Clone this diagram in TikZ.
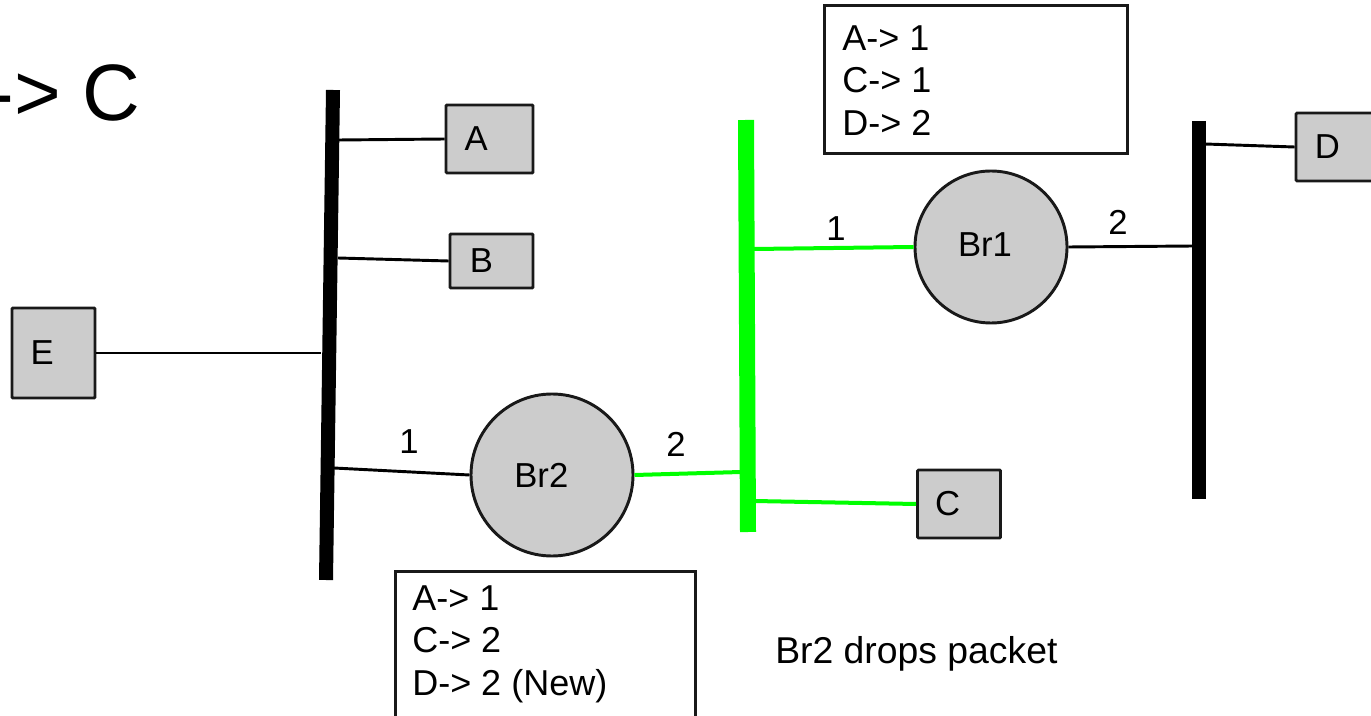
\documentclass[tikz,border=0pt]{standalone}
\usepackage{fontspec}
\setmainfont{Liberation Sans}
\begin{document}
\begin{tikzpicture}[x=0.75pt,y=-0.75pt,
  box/.style={draw=black!90,line width=2.2pt,fill=boxgray,inner sep=0pt,rounded corners=0.8pt},
  boxlabel/.style={font=\fontsize{26}{30}\selectfont},
  router/.style={circle,draw=black!90,line width=2.2pt,fill=boxgray,inner sep=0pt,minimum size=#1},
  bus/.style={line width=#1},
  wire/.style={line width=2.2pt},
  gwire/.style={line width=3pt,draw=busgreen},
  tbl/.style={draw=black!90,line width=2.2pt,fill=white},
  txt/.style={font=\fontsize{26}{32}\selectfont,inner sep=0pt},
  tbltxt/.style={font=\fontsize{27}{32}\selectfont,inner sep=0pt,align=left},
]
\definecolor{boxgray}{HTML}{CCCCCC}
\definecolor{busgreen}{HTML}{00FF00}
\useasboundingbox (0,0) rectangle (1371,716);
\clip (0,0) rectangle (1371,716);

% title fragment
\node[font=\fontsize{60}{70}\selectfont,inner sep=0pt,anchor=base east] (title) at (141,121) {-> C};

% buses
\coordinate (L1) at (333,90);
\coordinate (L2) at (326,580);
\draw[bus=10.5pt] (L1) -- (L2);
\coordinate (G1) at (746,120);
\coordinate (G2) at (748,532);
\draw[bus=12pt,draw=busgreen] (G1) -- (G2);
\coordinate (R1) at (1199,121);
\coordinate (R2) at (1199,499);
\draw[bus=10.5pt] (R1) -- (R2);

% hosts
\node[box,minimum width=65.25pt,minimum height=51pt,label={[boxlabel,xshift=-10pt]center:A}] (A) at (489.5,139) {};
\node[box,minimum width=62.25pt,minimum height=40.5pt,label={[boxlabel,xshift=-7.5pt]center:B}] (B) at (491.5,261) {};
\node[box,minimum width=62.25pt,minimum height=67.5pt,label={[boxlabel,xshift=-8.5pt]center:E}] (E) at (53.5,353) {};
\node[box,minimum width=62.25pt,minimum height=51pt,label={[boxlabel,xshift=-8.5pt]center:C}] (C) at (959,504) {};
\node[box,minimum width=62.25pt,minimum height=51pt,label={[boxlabel,xshift=-7.5pt]center:D}] (D) at (1337.5,147) {};

% bridges
\node[router=121.5pt,label={[boxlabel,xshift=-8pt]center:Br2}] (Br2) at (552,475) {};
\node[router=114pt,label={[boxlabel,xshift=-4.5pt,yshift=1.5pt]center:Br1}] (Br1) at (991,247) {};

% connection points on buses
\coordinate (pA) at (339,140);
\coordinate (pB) at (338,258);
\coordinate (pE) at (321,353);
\coordinate (pBr2) at (334,468);
\coordinate (gBr2) at (741,472);
\coordinate (gBr1) at (754,249);
\coordinate (gC) at (754,501);
\coordinate (rBr1) at (1193,246);
\coordinate (rD) at (1205,144);

% wires
\draw[wire] (pA) -- (A.west);
\draw[wire] (pB) -- (B.west);
\draw[wire] (E.east) -- (pE);
\draw[wire] (pBr2) -- (Br2.west);
\draw[gwire] (Br2.east) -- (gBr2);
\draw[gwire] (gBr1) -- (Br1.west);
\draw[gwire] (gC) -- (C.west);
\draw[wire] (Br1.east) -- (rBr1);
\draw[wire] (rD) -- (D.west);

% port labels
\node[txt] (n1a) at (409,442) {1};
\node[txt] (n2a) at (676,444) {2};
\node[txt] (n1b) at (836,229) {1};
\node[txt] (n2b) at (1118,222) {2};

% tables
\node[tbl,minimum width=227.25pt,minimum height=111pt,anchor=north west] (T1) at (823,4) {};
\node[tbltxt,anchor=north west] (T1text) at (842,25) {A-> 1\\C-> 1\\D-> 2};
\node[tbl,minimum width=225pt,minimum height=120pt,anchor=north west] (T2) at (394,570) {};
\node[tbltxt,anchor=north west] (T2text) at (412,585) {A-> 1\\C-> 2\\D-> 2 (New)};

% note
\node[font=\fontsize{28}{32}\selectfont,inner sep=0pt,anchor=base west] (note) at (775,663) {Br2 drops packet};
\end{tikzpicture}
\end{document}
